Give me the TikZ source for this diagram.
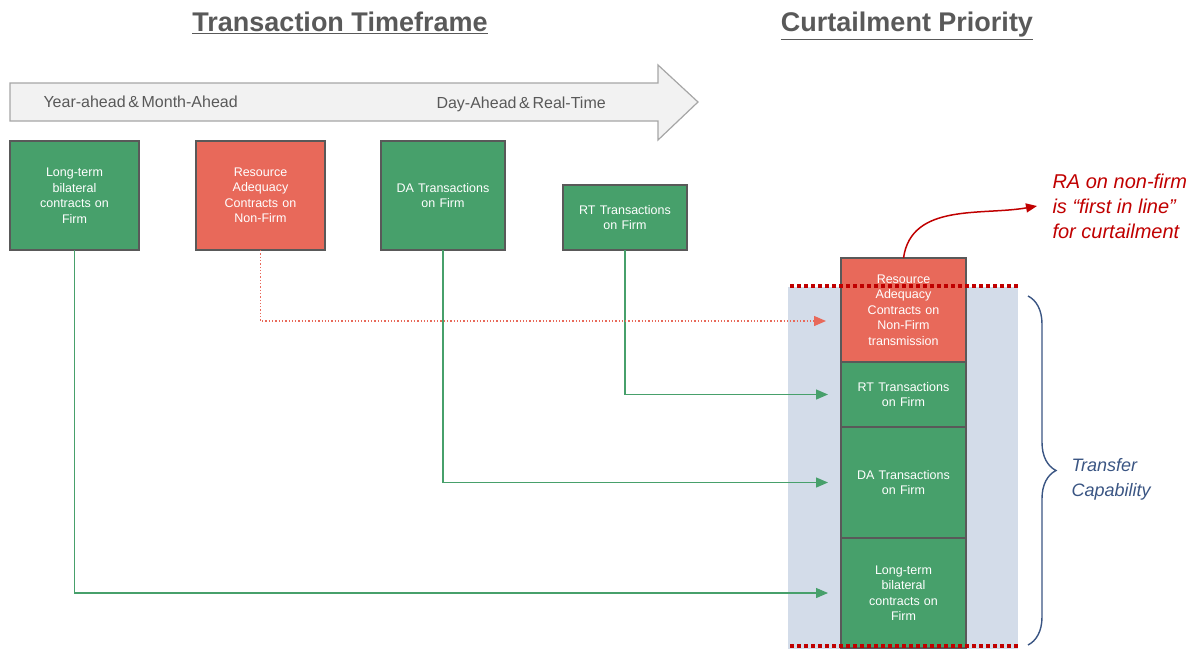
\documentclass[tikz,border=0pt]{standalone}
\usepackage{fontspec}
\setmainfont{Liberation Sans}
\usetikzlibrary{positioning,arrows.meta,decorations.pathreplacing}

\definecolor{firmGreen}{HTML}{47A06B}
\definecolor{nonfirmRed}{HTML}{E8695A}
\definecolor{boxLine}{HTML}{595959}
\definecolor{bandBlue}{HTML}{D3DCE9}
\definecolor{alertRed}{HTML}{C00000}
\definecolor{braceBlue}{HTML}{3A5583}
\definecolor{titleGray}{HTML}{595959}
\definecolor{arrowFill}{HTML}{F2F2F2}
\definecolor{arrowLine}{HTML}{A6A6A6}

\begin{document}
\begin{tikzpicture}[
  x=1pt, y=1pt,
  font=\fontsize{12.5}{15.5}\selectfont,
  g/.style={draw=boxLine, line width=1.2pt, fill=firmGreen, text=white, align=center, inner sep=0pt, outer sep=0pt, text width=118pt, minimum width=129pt},
  r/.style={g, fill=nonfirmRed},
  ttl/.style={font=\bfseries\fontsize{27}{30}\selectfont, text=titleGray},
  lbl/.style={font=\fontsize{16}{18}\selectfont, text=titleGray, anchor=west},
  timeline/.style={draw=arrowLine, line width=1.2pt, fill=arrowFill},
  link/.style={draw=firmGreen, line width=1.3pt, -{Triangle[length=12pt,width=10pt]}},
  nflink/.style={draw=nonfirmRed, line width=1.3pt, dotted, -{Triangle[length=12pt,width=10pt]}},
  cutline/.style={draw=alertRed, line width=3.5pt, dash pattern=on 3.5pt off 3.5pt},
  callout/.style={draw=alertRed, line width=1.5pt, -{Triangle[length=11pt,width=9pt]}},
  note/.style={font=\itshape\fontsize{20}{25}\selectfont, text=alertRed, align=left, anchor=west},
  brc/.style={draw=braceBlue, line width=1.4pt, decorate, decoration={brace, amplitude=28pt}},
  tc/.style={font=\itshape\fontsize{18}{25}\selectfont, text=braceBlue, align=left, anchor=west}
]
\useasboundingbox (0,0) rectangle (1197,-649);

% headings
\node[ttl] (ttlTime) at (340,-23) {\underline{Transaction Timeframe}};
\node[ttl] (ttlPrio) at (907,-26) {\underline{Curtailment Priority}};

% time line
\draw[timeline] (10,-83) -- (658,-83) -- (658,-65) -- (698,-102) -- (658,-140) -- (658,-121) -- (10,-121) -- cycle;
\node[lbl] (fwd) at (40,-102) {Year-ahead\,\&\,Month-Ahead};
\node[lbl] (spot) at (433,-104) {Day-Ahead\,\&\,Real-Time};

% transfer capability band
\fill[bandBlue] (788,-287) rectangle (1018,-649);

% transactions in time order
\node[g, minimum height=109pt] (lt) at (74.5,-195.5) {Long-term\\bilateral\\contracts on\\Firm};
\node[r, minimum height=109pt] (ra) at (260.5,-195.5) {Resource\\Adequacy\\Contracts on\\Non-Firm};
\node[g, minimum height=109pt, minimum width=124pt] (da) at (443,-195.5) {DA Transactions\\on Firm};
\node[g, minimum height=65pt, minimum width=124pt] (rt) at (625,-217.5) {RT Transactions\\on Firm};

% curtailment stack
\node[r, minimum height=104pt, minimum width=125pt] (raR) at (903.5,-310) {Resource\\Adequacy\\Contracts on\\Non-Firm\\transmission};
\node[g, minimum height=65pt, minimum width=125pt, below=0pt of raR] (rtR) {RT Transactions\\on Firm};
\node[g, minimum height=111pt, minimum width=125pt, below=0pt of rtR] (daR) {DA Transactions\\on Firm};
\node[g, minimum height=110pt, minimum width=125pt, below=0pt of daR] (ltR) {Long-term\\bilateral\\contracts on\\Firm};

\draw[link] (lt.south) |- ([xshift=-13pt]ltR.west);
\draw[link] (da.south) |- ([xshift=-13pt]daR.west);
\draw[link] (rt.south) |- ([xshift=-13pt]rtR.west);
\draw[nflink] (ra.south) |- ([xshift=-15pt,yshift=-11pt]raR.west);

\draw[cutline] (790,-286) -- (1018,-286);
\draw[cutline] (790,-646) -- (1018,-646);

% notes
\node[note] (first) at (1049,-206) {RA on non-firm\\is “first in line”\\for curtailment};
\draw[callout] (raR.north) to[out=82,in=190] ([xshift=-12pt]first.west);

\draw[brc] (1028,-296) -- (1028,-645);
\node[tc] (cap) at (1068,-479) {Transfer\\Capability};

\end{tikzpicture}
\end{document}
